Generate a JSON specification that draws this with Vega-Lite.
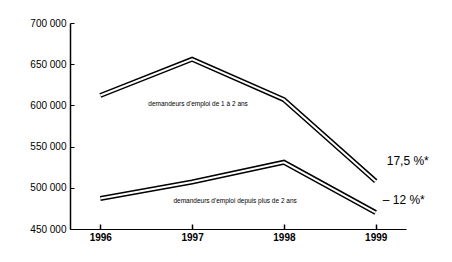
{
  "$schema": "https://vega.github.io/schema/vega-lite/v6.json",
  "width": 336,
  "height": 206,
  "autosize": "none",
  "padding": {"left": 70, "top": 23, "right": 46, "bottom": 33},
  "background": "white",
  "config": {"view": {"stroke": null}, "font": "Liberation Sans"},
  "datasets": {
    "series": [
      {"year": "1996", "value": 612000, "group": "a"},
      {"year": "1997", "value": 656000, "group": "a"},
      {"year": "1998", "value": 607000, "group": "a"},
      {"year": "1999", "value": 508000, "group": "a"},
      {"year": "1996", "value": 487000, "group": "b"},
      {"year": "1997", "value": 507000, "group": "b"},
      {"year": "1998", "value": 531000, "group": "b"},
      {"year": "1999", "value": 470000, "group": "b"}
    ],
    "notes": [
      {"id": "a", "year": "1997", "value": 602000, "label": "demandeurs d'emploi de 1 à 2 ans"},
      {"id": "b", "year": "1997", "value": 484000, "label": "demandeurs d'emploi depuis plus de 2 ans"},
      {"id": "c", "year": "1999", "value": 533000, "label": "17,5 %*"},
      {"id": "d", "year": "1999", "value": 485000, "label": "– 12 %*"}
    ]
  },
  "layer": [
    {
      "data": {"name": "series"},
      "mark": {"type": "line", "color": "black", "strokeWidth": 5, "strokeJoin": "miter"},
      "encoding": {
        "x": {
          "field": "year", "type": "ordinal",
          "scale": {"type": "point", "padding": 0.33},
          "axis": {"title": null, "labelAngle": 0, "tickSize": -5, "ticks": true, "labelPadding": 8, "labelFontSize": 10, "labelColor": "black", "domainColor": "black", "tickColor": "black", "domainWidth": 1.2, "tickWidth": 1.5, "labelFontWeight": "bold"}
        },
        "y": {
          "field": "value", "type": "quantitative",
          "scale": {"domain": [450000, 700000], "nice": false, "zero": false},
          "axis": {"title": null, "values": [450000, 500000, 550000, 600000, 650000, 700000], "grid": false, "tickSize": -4, "labelPadding": 8, "labelFontSize": 10, "labelColor": "black", "domainColor": "black", "tickColor": "black", "domainWidth": 1.5, "labelExpr": "replace(format(datum.value, ','), /,/g, ' ')"}
        },
        "detail": {"field": "group"}
      }
    },
    {
      "data": {"name": "series"},
      "mark": {"type": "line", "color": "white", "strokeWidth": 2, "strokeJoin": "miter"},
      "encoding": {
        "x": {"field": "year", "type": "ordinal"},
        "y": {"field": "value", "type": "quantitative"},
        "detail": {"field": "group"}
      }
    },
    {
      "data": {"name": "notes"},
      "transform": [{"filter": "datum.id == 'a'"}],
      "mark": {"type": "text", "color": "black", "align": "center", "baseline": "middle", "fontSize": 6.5, "dx": 6},
      "encoding": {
        "x": {"field": "year", "type": "ordinal"},
        "y": {"field": "value", "type": "quantitative"},
        "text": {"field": "label"}
      }
    },
    {
      "data": {"name": "notes"},
      "transform": [{"filter": "datum.id == 'b'"}],
      "mark": {"type": "text", "color": "black", "align": "center", "baseline": "middle", "fontSize": 6.5, "dx": 43},
      "encoding": {
        "x": {"field": "year", "type": "ordinal"},
        "y": {"field": "value", "type": "quantitative"},
        "text": {"field": "label"}
      }
    },
    {
      "data": {"name": "notes"},
      "transform": [{"filter": "datum.id == 'c'"}],
      "mark": {"type": "text", "color": "black", "align": "left", "baseline": "middle", "fontSize": 12, "dx": 11},
      "encoding": {
        "x": {"field": "year", "type": "ordinal"},
        "y": {"field": "value", "type": "quantitative"},
        "text": {"field": "label"}
      }
    },
    {
      "data": {"name": "notes"},
      "transform": [{"filter": "datum.id == 'd'"}],
      "mark": {"type": "text", "color": "black", "align": "left", "baseline": "middle", "fontSize": 12, "dx": 7},
      "encoding": {
        "x": {"field": "year", "type": "ordinal"},
        "y": {"field": "value", "type": "quantitative"},
        "text": {"field": "label"}
      }
    }
  ]
}
